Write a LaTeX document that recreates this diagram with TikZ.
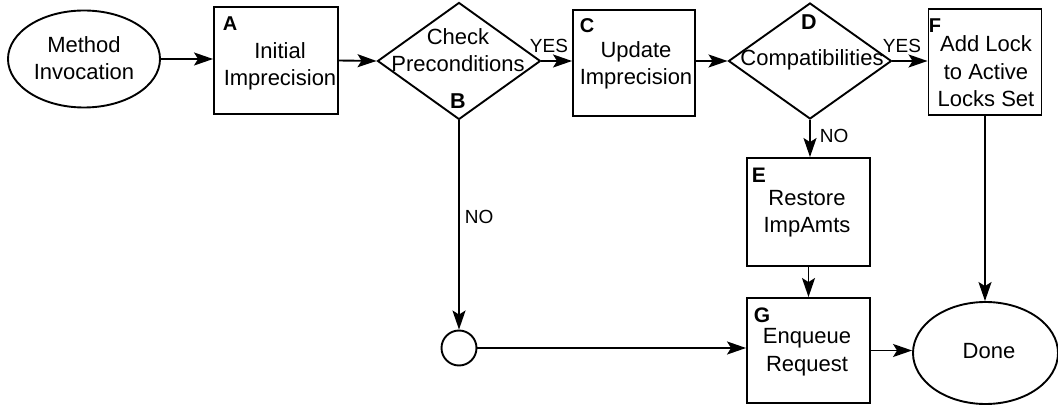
\documentclass[tikz,border=0pt]{standalone}
\usepackage{fontspec}
\setmainfont{Liberation Sans}
\usetikzlibrary{shapes.geometric,arrows.meta}
\tikzset{
  arr/.style={-{Stealth[length=19pt,width=13pt,inset=4pt]}},
  boxshape/.style={draw, rectangle, inner sep=0pt},
  ellshape/.style={draw, ellipse, inner sep=0pt},
  dia/.style={draw, diamond, inner sep=0pt},
  txt/.style={font=\fontsize{22}{27.5}\selectfont, align=center, anchor=base, inner sep=0pt},
  lblsmall/.style={font=\fontsize{20}{20}\selectfont\bfseries, anchor=base west, inner sep=0pt},
  lblmid/.style={font=\fontsize{21}{21}\selectfont\bfseries, anchor=base west, inner sep=0pt},
  lblbig/.style={font=\fontsize{21.5}{21.5}\selectfont\bfseries, anchor=base, inner sep=0pt},
  yn/.style={font=\fontsize{19}{19}\selectfont, inner sep=0pt}
}
\begin{document}
\begin{tikzpicture}[x=1pt,y=-1pt,line width=1.9pt]
\useasboundingbox (0,0) rectangle (1058,406);

% shapes
\node[ellshape, minimum width=152pt, minimum height=97pt] (mi) at (84,59) {};
\node[boxshape, minimum width=124pt, minimum height=107pt] (A) at (276,60.5) {};
\node[dia, minimum width=163pt, minimum height=117pt] (B) at (459,61) {};
\node[boxshape, minimum width=122pt, minimum height=106pt] (C) at (634,63) {};
\node[dia, minimum width=163pt, minimum height=116pt] (D) at (810,61) {};
\node[boxshape, minimum width=113pt, minimum height=106pt] (F) at (985,62) {};
\node[boxshape, minimum width=123pt, minimum height=108pt] (E) at (808.5,212) {};
\node[boxshape, minimum width=123pt, minimum height=105pt] (G) at (808.5,350.5) {};
\node[draw, circle, minimum size=35pt, inner sep=0pt] (K) at (459,348) {};
\node[ellshape, minimum width=145pt, minimum height=102pt] (done) at (985.5,353) {};

% texts (anchored at the baseline of the last line)
\node[txt] (tmi) at (84,80) {Method\\Invocation};
\node[txt] (tA) at (280,86) {Initial\\Imprecision};
\node[txt] (tB) at (458,72) {Check\\Preconditions};
\node[txt] (tC) at (636,85) {Update\\Imprecision};
\node[txt] (tD) at (812,66) {Compatibilities};
\node[txt] (tF) at (986,107) {Add Lock\\to Active\\Locks Set};
\node[txt] (tE) at (807,233) {Restore\\ImpAmts};
\node[txt] (tG) at (807,371) {Enqueue\\Request};
\node[txt] (tdone) at (989,358) {Done};

% letter labels
\node[lblsmall] (lA) at (222,31) {A};
\node[lblbig] (lB) at (458,109) {B};
\node[lblsmall] (lC) at (579,33) {C};
\node[lblbig] (lD) at (809,30) {D};
\node[lblsmall] (lF) at (928,33) {F};
\node[lblmid] (lE) at (751,183) {E};
\node[lblmid] (lG) at (753,323) {G};

% connectors
\draw[arr] (mi.east) -- (mi.east -| A.west);
\draw[arr] (A.east) -- (B.west);
\draw[arr] (B.east) -- (B.east -| C.west);
\draw[arr] (C.east |- D.west) -- (D.west);
\draw[arr] (D.east) -- (D.east -| F.west);
\draw[arr] (B.south) -- (K.north);
\draw[arr] (K.east) -- (K.east -| G.west);
\draw[arr] (D.south) -- (D.south |- E.north);
\draw[arr] (E.south) -- (G.north);
\draw[arr] (G.east) -- (G.east -| done.west);
\draw[arr] (F.south) -- (F.south |- done.north);

% branch labels
\node[yn, anchor=base] (y1) at (549,53) {YES};
\node[yn, anchor=base] (y2) at (902,53) {YES};
\node[yn, anchor=base west] (n1) at (464,224) {NO};
\node[yn, anchor=base west] (n2) at (819,143) {NO};
\end{tikzpicture}
\end{document}
